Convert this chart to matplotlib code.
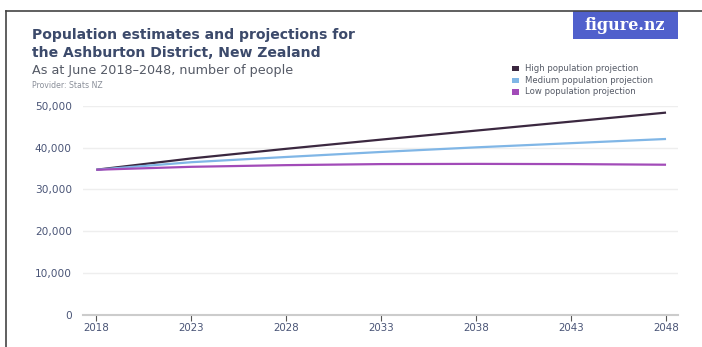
import matplotlib
matplotlib.use("Agg")
import matplotlib.pyplot as plt
from matplotlib.lines import Line2D
from matplotlib.patches import Rectangle

years = [2018, 2023, 2028, 2033, 2038, 2043, 2048]
high = [34700, 37400, 39700, 41900, 44050, 46200, 48350]
medium = [34700, 36500, 37750, 38950, 40050, 41050, 42050]
low = [34700, 35400, 35800, 36050, 36100, 36050, 35900]
series_names = ["High population projection", "Medium population projection", "Low population projection"]
series_colors = ["#3b2840", "#80b6e6", "#a24bb8"]
yticks = [0, 10000, 20000, 30000, 40000, 50000]
ytick_labels = ["0", "10,000", "20,000", "30,000", "40,000", "50,000"]

W, H = 702, 347
fig = plt.figure(figsize=(W / 100, H / 100), dpi=100)
plt.rcParams['font.family'] = ['DejaVu Sans']

def fx(px):
    return px / W

def fy(py):
    return 1 - py / H

ax = fig.add_axes([fx(83), fy(315), fx(678) - fx(83), fy(105.7) - fy(315)])
for vals, name, col in zip([high, medium, low], series_names, series_colors):
    ax.plot(years, vals, color=col, lw=1.6, label=name, solid_capstyle='butt')

ax.set_xlim(2017.3, 2048.63)
ax.set_ylim(0, 50000)
ax.set_yticks(yticks)
ax.set_yticklabels(ytick_labels)
ax.set_xticks(years)
ax.set_xticklabels([str(y) for y in years])
ax.grid(axis='y', color='#eeeeee', lw=1)
ax.set_axisbelow(True)
for s in ['top', 'right', 'left']:
    ax.spines[s].set_visible(False)
ax.spines['bottom'].set_color('#cccccc')
ax.spines['bottom'].set_linewidth(1.5)
ax.tick_params(axis='y', length=0, pad=8, labelsize=7.6, labelcolor='#4a5577')
ax.tick_params(axis='x', length=4, width=0.8, color='#555555', pad=2, labelsize=7.4, labelcolor='#4a5577')

# Titles
fig.text(fx(32), fy(39), "Population estimates and projections for", fontsize=10.1,
         fontweight='bold', color='#3c4a6b', va='baseline', ha='left')
fig.text(fx(32), fy(57), "the Ashburton District, New Zealand", fontsize=10.1,
         fontweight='bold', color='#3c4a6b', va='baseline', ha='left')
fig.text(fx(32), fy(74), "As at June 2018\u20132048, number of people", fontsize=9.2,
         color='#555a66', va='baseline', ha='left')
fig.text(fx(32), fy(87.5), "Provider: Stats NZ", fontsize=5.6,
         color='#8a8f99', va='baseline', ha='left')

# Legend
ly = [68.3, 80.3, 92]
for name, col, y in zip(series_names, series_colors, ly):
    fig.patches.append(Rectangle((fx(512), fy(y + 2.5)), fx(7), 5 / H, transform=fig.transFigure,
                                 facecolor=col, edgecolor='none'))
    fig.text(fx(525), fy(y + 2.5), name, fontsize=6.1, color='#555a66', va='baseline', ha='left')

# Logo
fig.patches.append(Rectangle((fx(573), fy(39.3)), fx(678) - fx(573), (39.3 - 11) / H,
                             transform=fig.transFigure, facecolor='#5060cc', edgecolor='none'))
fig.text(fx(625), fy(25), "figure.nz", fontsize=11.5, fontweight='bold', family='DejaVu Serif',
         color='white', ha='center', va='center')

# Border
fig.add_artist(Line2D([fx(5.5), fx(5.5)], [fy(347), fy(11)], color='#444444', lw=1.2,
                      transform=fig.transFigure))
fig.add_artist(Line2D([fx(5.5), 1], [fy(11), fy(11)], color='#444444', lw=1.2,
                      transform=fig.transFigure))

fig.savefig("out.png", dpi=100)
